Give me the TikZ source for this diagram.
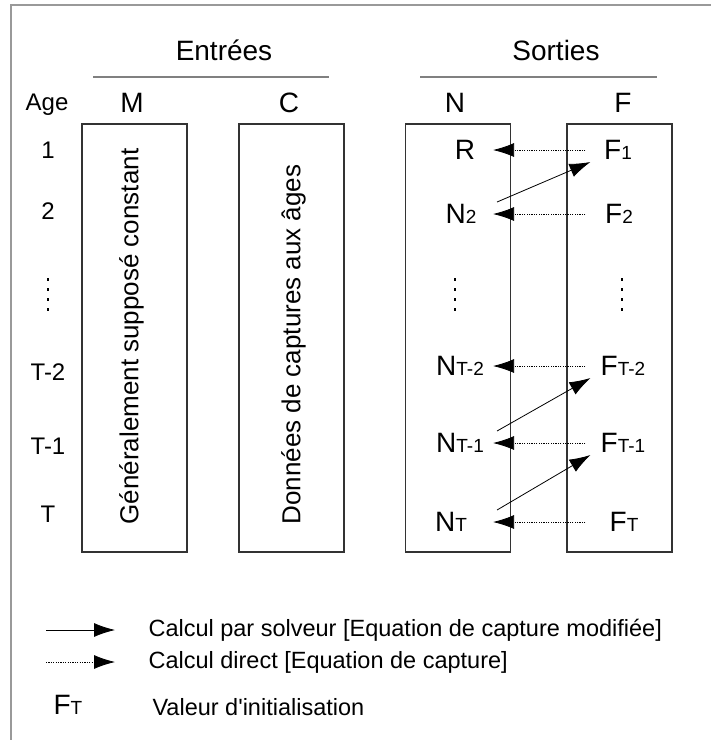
\documentclass[tikz,border=0pt]{standalone}
\usepackage{fontspec}
\setmainfont{Liberation Sans}
\usetikzlibrary{arrows.meta,calc}
\newcommand{\ix}[1]{{\fontsize{19}{19}\selectfont #1}}
\tikzset{
  colbox/.style={draw=black!80,line width=1.1pt,minimum width=105pt,minimum height=428pt,inner sep=0pt},
  head/.style={font=\fontsize{28}{28}\selectfont},
  col/.style={font=\fontsize{28}{28}\selectfont},
  age/.style={font=\fontsize{24}{24}\selectfont},
  val/.style={font=\fontsize{28}{28}\selectfont},
  vtext/.style={rotate=90,anchor=west,font=\fontsize{26}{26}\selectfont},
  legtext/.style={anchor=west,font=\fontsize{23.5}{23.5}\selectfont},
  hline/.style={draw=gray,line width=1.5pt},
  solv/.style={-{Latex[length=21pt,width=14pt]},line width=0.8pt},
  calcd/.style={-{Latex[length=21pt,width=14pt]},line width=0.8pt,dash pattern=on 1.2pt off 1.2pt},
}
\begin{document}
\begin{tikzpicture}[x=1pt,y=-1pt]
  \useasboundingbox (0,0) rectangle (711,740);
  % frame
  \draw[draw=gray!80,line width=1.5pt] (711,5) -| (11,740);
  % headings
  \node[head] (entrees) at (224,50) {Entrées};
  \node[head] (sorties) at (556,50) {Sorties};
  \draw[hline] (93,77) -- (329,77);
  \draw[hline] (420,77) -- (657,77);
  \node[age] (agehd) at (47,105) {Age};
  \node[col] (mhd) at (132,103) {M};
  \node[col] (chd) at (289,103) {C};
  \node[col] (nhd) at (455,103) {N};
  \node[col] (fhd) at (623,103) {F};
  % ages
  \node[age] (a1) at (48,150) {1};
  \node[age] (a2) at (48,211) {2};
  \node[age] (at2) at (48,372) {T-2};
  \node[age] (at1) at (48,446) {T-1};
  \node[age] (at) at (48,514) {T};
  \foreach \xx in {48,455,622}
    \foreach \yy in {0,10,20,30}
      \fill (\xx-1.3,278+\yy) rectangle ++(2.6,2.6);
  % columns
  \node[colbox] (mbox) at (134.5,338) {};
  \node[colbox] (cbox) at (291.5,338) {};
  \node[colbox] (nbox) at (458,338) {};
  \node[colbox] (fbox) at (619.5,338) {};
  \node[vtext] (mtxt) at (131.5,528) {Généralement supposé constant};
  \node[vtext] (ctxt) at (293.5,528) {Données de captures aux âges};
  % N and F values
  \node[val] (r) at (465,150) {R};
  \node[val] (n2) at (461,214) {N\ix{2}};
  \node[val] (nt2) at (460,366) {N\ix{T-2}};
  \node[val] (nt1) at (460,443) {N\ix{T-1}};
  \node[val] (nt) at (451,522) {N\ix{T}};
  \node[val] (f1) at (618,150) {F\ix{1}};
  \node[val] (f2) at (619,214) {F\ix{2}};
  \node[val] (ft2) at (623,366) {F\ix{T-2}};
  \node[val] (ft1) at (623,443) {F\ix{T-1}};
  \node[val] (ft) at (624,522) {F\ix{T}};
  \foreach \n in {r,n2,nt2,nt1,nt}
    \draw[calcd] ($(fbox.west |- \n)+(19pt,0)$) -- ($(nbox.east |- \n)+(-18pt,0)$);
  \foreach \n/\f in {n2/f1,nt1/ft2,nt/ft1}
    \draw[solv] ($(nbox.east |- \n)+(-14pt,12pt)$) -- ($(fbox.west |- \f)+(24pt,-12pt)$);
  % legend
  \node[legtext] (lsolv) at (145,630) {Calcul par solveur [Equation de capture modifiée]};
  \node[legtext] (lcalcd) at (145,662) {Calcul direct [Equation de capture]};
  \node[val] (lft) at (68,705) {F\ix{T}};
  \node[legtext] (linit) at (149,707) {Valeur d\textquotesingle initialisation};
  \draw[solv] ([xshift=-99pt]lsolv.west) -- ([xshift=-30pt]lsolv.west);
  \draw[calcd] ([xshift=-99pt]lcalcd.west) -- ([xshift=-30pt]lcalcd.west);
\end{tikzpicture}
\end{document}
